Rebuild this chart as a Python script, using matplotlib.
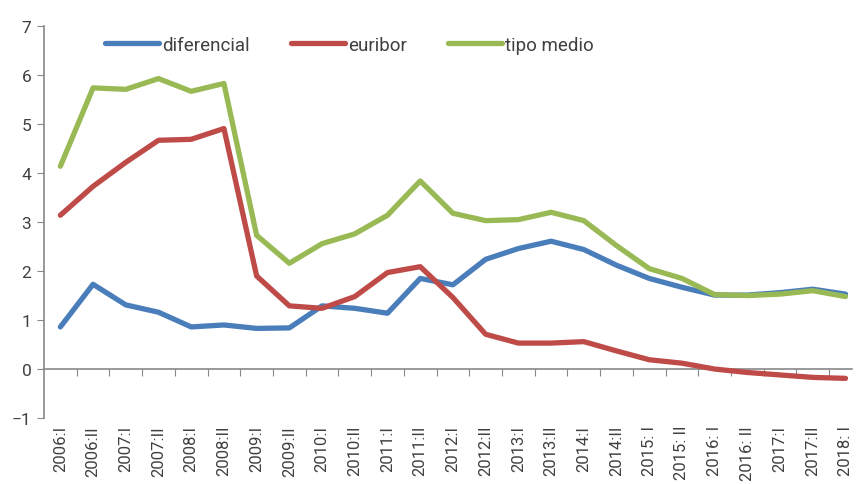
import numpy as np
import matplotlib
matplotlib.use('Agg')
import matplotlib.pyplot as plt

periods = ['2006:I', '2006:II', '2007:I', '2007:II', '2008:I', '2008:II',
           '2009:I', '2009:II', '2010:I', '2010:II', '2011:I', '2011:II',
           '2012:I', '2012:II', '2013:I', '2013:II', '2014:I', '2014:II',
           '2015: I', '2015: II', '2016: I', '2016: II', '2017:I', '2017:II',
           '2018: I']

diferencial = [0.86, 1.73, 1.31, 1.16, 0.86, 0.90, 0.83, 0.84, 1.29, 1.24,
               1.14, 1.85, 1.72, 2.24, 2.46, 2.61, 2.44, 2.12, 1.85, 1.67,
               1.51, 1.51, 1.56, 1.63, 1.53]
euribor = [3.14, 3.73, 4.22, 4.67, 4.69, 4.91, 1.90, 1.29, 1.24, 1.48,
           1.97, 2.09, 1.46, 0.71, 0.53, 0.53, 0.56, 0.37, 0.19, 0.12,
           0.00, -0.07, -0.12, -0.17, -0.19]
tipo_medio = [4.14, 5.74, 5.71, 5.93, 5.67, 5.83, 2.73, 2.16, 2.56, 2.76,
              3.14, 3.84, 3.18, 3.03, 3.05, 3.20, 3.03, 2.52, 2.05, 1.85,
              1.52, 1.50, 1.53, 1.60, 1.48]

plt.rcParams['font.family'] = ['Roboto', 'DejaVu Sans']
grey = '#888888'
txt = '#404040'

fig = plt.figure(figsize=(8.56, 4.85), dpi=100)
ax = fig.add_axes([0.0514, 0.136, 0.944, 0.808])

x = np.arange(len(periods))
ax.plot(x, diferencial, color='#4A7EBB', lw=3.8, solid_capstyle='round', label='diferencial')
ax.plot(x, euribor, color='#BE4B48', lw=3.8, solid_capstyle='round', label='euribor')
ax.plot(x, tipo_medio, color='#98B954', lw=3.8, solid_capstyle='round', label='tipo medio')

ax.set_xlim(-0.5, 24.2)
ax.set_ylim(-1, 7)
ax.set_yticks(range(-1, 8))
ax.tick_params(axis='y', length=5, color=grey, labelsize=12.5, labelcolor=txt, pad=4)

# category labels at the bottom, no tick marks
ax.set_xticks(x)
ax.set_xticklabels(periods, rotation=90, fontsize=12, color=txt, va='top')
ax.tick_params(axis='x', length=0, pad=5)

for s in ['top', 'right', 'bottom']:
    ax.spines[s].set_visible(False)
ax.spines['left'].set_color(grey)
ax.spines['left'].set_linewidth(1.2)

# zero line with tick marks between categories
zero = ax.secondary_xaxis(1 / 8)
zero.set_xticks(np.arange(len(periods)) + 0.5)
zero.set_xticklabels([])
zero.tick_params(length=5, color=grey, direction='out')
zero.spines['bottom'].set_color(grey)
zero.spines['bottom'].set_linewidth(1.2)

leg = ax.legend(loc='upper left', bbox_to_anchor=(0.054, 1.018), ncol=3, frameon=False,
                fontsize=13.5, handlelength=2.9, handletextpad=0.15, columnspacing=2.2)
for t in leg.get_texts():
    t.set_color(txt)

fig.savefig('out.png', dpi=100)
